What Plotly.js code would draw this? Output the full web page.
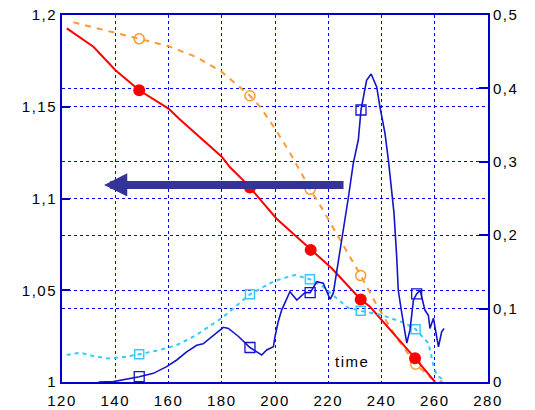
<!DOCTYPE html>
<html>
<head>
<meta charset="utf-8">
<script src="https://cdn.plot.ly/plotly-3.0.1.min.js"></script>
<style>
html,body{margin:0;padding:0;background:#fff;}
#chart{width:535px;height:410px;}
#chart svg text{letter-spacing:1.5px;}
</style>
</head>
<body>
<div id="chart"></div>
<script>
// Red series (left axis)
var redX = [121.8,131.8,140,149,160,164.3,180,183.1,188,190.6,200.6,213.4,221.3,232.2,235.7,252.6,260.1];
var redY = [1.1927,1.1827,1.170,1.159,1.149,1.143,1.1228,1.117,1.110,1.106,1.089,1.072,1.062,1.045,1.041,1.013,1.0];
var redMarkX = [149,190.6,213.4,232.2,252.6];
var redMarkY = [1.159,1.106,1.072,1.045,1.013];

// Orange series (left axis)
var orangeX = [124.3,138,149,160,170.6,180,190.6,194.4,200,205.6,210.6,213.2,217.5,225,232.2,238.2,245,252.8,258.8,263];
var orangeY = [1.196,1.191,1.187,1.183,1.177,1.169,1.156,1.150,1.138,1.125,1.112,1.105,1.095,1.0765,1.058,1.042,1.0256,1.0097,1.002,1.0];
var orangeMarkX = [149,190.6,213.2,232.2,252.8];
var orangeMarkY = [1.187,1.156,1.105,1.058,1.0097];

// Cyan series (right axis)
var cyanX = [121.8,126.8,131.8,137.4,144.3,149,156.8,163.1,170,180,190.6,200,207.5,213.1,218,221.7,227.5,232.2,240,249,252.8,257.6,259.5,260.7,263.2];
var cyanY = [0.0368,0.040,0.0354,0.032,0.0345,0.0377,0.0436,0.0504,0.063,0.087,0.1195,0.138,0.1458,0.14,0.130,0.1185,0.101,0.097,0.0913,0.080,0.072,0.053,0.023,0.0095,0.0027];
var cyanMarkX = [149,190.6,213.1,232.2,252.8];
var cyanMarkY = [0.0377,0.1195,0.14,0.097,0.072];

// Blue series (right axis)
var blueX = [133.7,139.3,149,154.3,159.3,163.1,166.8,170.6,173,176.2,180.6,182.5,186.3,190.6,195,196.9,199.4,200,201.2,202.5,205.6,208.2,211.3,213.2,215.7,218.1,220.7,221.9,223.2,225,226.3,227.5,229.4,231.3,232.3,234.4,236.1,238.2,239.4,241.3,242.6,243.9,244.7,245.7,246.3,247.6,249.5,250.7,252,253.2,254.5,256.3,257.6,258.2,259.5,260.7,261.4,262.6,263.5];
var blueY = [0,0.0005,0.0072,0.0118,0.021,0.030,0.041,0.050,0.052,0.062,0.0745,0.073,0.062,0.047,0.0368,0.0436,0.048,0.0617,0.082,0.098,0.123,0.1117,0.122,0.1217,0.1366,0.1345,0.1127,0.121,0.150,0.196,0.225,0.25,0.298,0.33,0.3706,0.411,0.4196,0.402,0.375,0.339,0.302,0.262,0.23,0.171,0.125,0.094,0.053,0.071,0.112,0.12,0.125,0.098,0.091,0.073,0.087,0.062,0.048,0.0685,0.073];
var blueMarkX = [149,190.6,213.2,232.3,253.2];
var blueMarkY = [0.0072,0.047,0.1217,0.3706,0.12];

// Axes
var xTicks = [120,140,160,180,200,220,240,260,280];
var yLeftTicks = [1,1.05,1.1,1.15,1.2];
var yRightTicks = [0,0.1,0.2,0.3,0.4,0.5];

// Arrow (tip and tail) and label
var arrowTip = [135.8, 1.1074];
var arrowTail = [226.3, 1.1074];
var labelText = 'time';
var labelPos = [228.9, 1.011];

var cRed = '#ff0000', cOrange = '#ff9933', cCyan = '#33ccff', cBlue = '#1414c8';

var traces = [
  {x: cyanX, y: cyanY, yaxis: 'y2', mode: 'lines', line: {color: cCyan, width: 2, dash: '4px,4px'}, hoverinfo: 'skip'},
  {x: cyanMarkX, y: cyanMarkY, yaxis: 'y2', mode: 'markers', marker: {symbol: 'square-open', size: 9, color: cCyan, line: {width: 1.5, color: cCyan}}},
  {x: blueX, y: blueY, yaxis: 'y2', mode: 'lines', line: {color: cBlue, width: 1.6}},
  {x: blueMarkX, y: blueMarkY, yaxis: 'y2', mode: 'markers', marker: {symbol: 'square-open', size: 10, color: cBlue, line: {width: 1.3, color: cBlue}}},
  {x: orangeX, y: orangeY, yaxis: 'y', mode: 'lines', line: {color: cOrange, width: 2, dash: '6px,6px'}},
  {x: orangeMarkX, y: orangeMarkY, yaxis: 'y', mode: 'markers', marker: {symbol: 'circle-open', size: 10, color: cOrange, line: {width: 1.5, color: cOrange}}},
  {x: redX, y: redY, yaxis: 'y', mode: 'lines', line: {color: cRed, width: 2}},
  {x: redMarkX, y: redMarkY, yaxis: 'y', mode: 'markers', marker: {symbol: 'circle', size: 12, color: cRed}}
];

var gridC = '#0000ff';
var frameC = '#0000cc';
var fnt = {family: '"Liberation Sans", Arial, sans-serif', size: 15, color: '#000'};

var layout = {
  width: 535, height: 410,
  margin: {l: 62, r: 47, t: 15, b: 28, pad: 0},
  paper_bgcolor: '#fff', plot_bgcolor: '#fff',
  showlegend: false,
  separators: ', ',
  font: fnt,
  xaxis: {
    range: [120, 280], tickvals: xTicks, ticks: '', ticklabelstandoff: 4, showgrid: true, gridcolor: gridC, griddash: 'dot', gridwidth: 1,
    zeroline: false, showline: true, mirror: true, linecolor: frameC, linewidth: 2, tickfont: fnt
  },
  yaxis: {
    range: [1, 1.2], tickvals: yLeftTicks, ticks: 'inside', ticklen: 8, tickwidth: 2, tickcolor: frameC,
    showgrid: true, gridcolor: gridC, griddash: 'dot', gridwidth: 1,
    zeroline: false, showline: true, linecolor: frameC, linewidth: 2, tickfont: fnt
  },
  yaxis2: {
    range: [0, 0.5], tickvals: yRightTicks, overlaying: 'y', side: 'right', ticks: 'inside', ticklen: 9, tickwidth: 2, tickcolor: frameC,
    showgrid: true, gridcolor: gridC, griddash: 'dot', gridwidth: 1,
    zeroline: false, showline: true, linecolor: frameC, linewidth: 2, tickfont: fnt
  },
  annotations: [
    {x: arrowTip[0], y: arrowTip[1], xref: 'x', yref: 'y', ax: arrowTail[0], ay: arrowTail[1], axref: 'x', ayref: 'y',
     text: '', showarrow: true, arrowhead: 2, arrowsize: 0.58, arrowwidth: 8, arrowcolor: '#333399', standoff: 0},
    {x: labelPos[0], y: labelPos[1], xref: 'x', yref: 'y', text: labelText, showarrow: false, font: fnt}
  ]
};

Plotly.newPlot('chart', traces, layout, {staticPlot: true, displayModeBar: false});
</script>
</body>
</html>
